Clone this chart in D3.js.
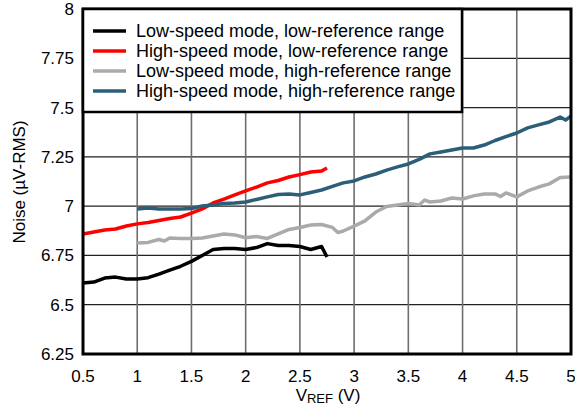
<!DOCTYPE html>
<meta charset="utf-8">
<head>
  <style>
    body { margin: 0; background: #fff; }
    svg text { font-family: "Liberation Sans", Arial, sans-serif; fill: #000; }
    .tick-label { font-size: 17px; }
    .legend-label { font-size: 18px; }
  </style>
  <script src="https://cdn.jsdelivr.net/npm/d3@7"></script>
</head>
<body>
  <svg width="575" height="408"></svg>
  <script>

    // x values (V) and noise readings (uV-RMS) for each curve
    var lowRefX = [0.5,0.6,0.7,0.8,0.9,1.0,1.1,1.2,1.3,1.4,1.5,1.6,1.7,1.8,1.9,2.0,2.1,2.2,2.3,2.4,2.5,2.6,2.7,2.75]
    var lsLowRef = [6.61,6.615,6.635,6.64,6.63,6.63,6.637,6.655,6.675,6.695,6.72,6.75,6.78,6.785,6.785,6.78,6.79,6.81,6.80,6.80,6.795,6.78,6.795,6.742]
    var hsLowRef = [6.859,6.869,6.879,6.884,6.899,6.91,6.917,6.927,6.937,6.945,6.965,6.986,7.016,7.036,7.057,7.077,7.097,7.118,7.13,7.148,7.16,7.173,7.178,7.194]

    var hsHighX = [1.0,1.1,1.2,1.3,1.4,1.5,1.6,1.7,1.8,1.9,2.0,2.1,2.2,2.3,2.4,2.5,2.6,2.7,2.8,2.9,3.0,3.1,3.2,3.3,3.4,3.5,3.6,3.7,3.8,3.9,4.0,4.1,4.2,4.3,4.4,4.5,4.6,4.7,4.8,4.9,4.95,5.0]
    var hsHighRef = [6.986,6.991,6.986,6.986,6.986,6.988,7.001,7.006,7.014,7.016,7.021,7.034,7.047,7.059,7.062,7.057,7.069,7.082,7.10,7.118,7.128,7.148,7.163,7.183,7.199,7.214,7.237,7.265,7.275,7.285,7.295,7.295,7.31,7.333,7.353,7.371,7.397,7.412,7.427,7.452,7.437,7.457]

    var lsHighX = [1.0,1.1,1.2,1.25,1.3,1.4,1.5,1.6,1.7,1.8,1.9,2.0,2.1,2.2,2.3,2.4,2.5,2.6,2.7,2.8,2.85,2.9,3.0,3.1,3.2,3.3,3.4,3.5,3.6,3.65,3.7,3.8,3.9,4.0,4.1,4.2,4.3,4.35,4.4,4.5,4.6,4.7,4.8,4.9,5.0]
    var lsHighRef = [6.813,6.816,6.831,6.823,6.838,6.836,6.836,6.838,6.849,6.859,6.854,6.84,6.846,6.836,6.859,6.882,6.892,6.904,6.907,6.892,6.866,6.874,6.899,6.925,6.97,6.998,7.006,7.014,7.006,7.031,7.021,7.026,7.041,7.036,7.052,7.062,7.062,7.049,7.067,7.047,7.077,7.097,7.113,7.145,7.148]

    var xTicks = [0.5,1,1.5,2,2.5,3,3.5,4,4.5,5]
    var yTicks = [6.25,6.5,6.75,7,7.25,7.5,7.75,8]

    var seriesNames = ["Low-speed mode, low-reference range", "High-speed mode, low-reference range",
      "Low-speed mode, high-reference range", "High-speed mode, high-reference range"]
    var seriesColors = ["#000000", "#ff0000", "#aaaaaa", "#2b5f78"]

    var series = [
      {x: lowRefX, y: lsLowRef},
      {x: lowRefX, y: hsLowRef},
      {x: lsHighX, y: lsHighRef},
      {x: hsHighX, y: hsHighRef}
    ]

    var svg = d3.select("svg")
    var plotL = 83, plotR = 571, plotT = 9, plotB = 354

    var x = d3.scaleLinear().domain([0.5, 5]).range([plotL, plotR])
    var y = d3.scaleLinear().domain([6.25, 8]).range([plotB, plotT])

    // grid
    svg.append("g").selectAll("line")
    .data(yTicks).enter().append("line")
    .attr("x1", plotL).attr("x2", plotR)
    .attr("y1", function(d) { return y(d) }).attr("y2", function(d) { return y(d) })
    .style("stroke", "#222").style("stroke-width", 1.2)

    svg.append("g").selectAll("line")
    .data(xTicks).enter().append("line")
    .attr("y1", plotT).attr("y2", plotB)
    .attr("x1", function(d) { return x(d) }).attr("x2", function(d) { return x(d) })
    .style("stroke", "#6e6e6e").style("stroke-width", 1.6)

    // curves
    var line = d3.line()
    .x(function(d) { return x(d[0]) })
    .y(function(d) { return y(d[1]) })

    series.forEach(function(s, i) {
      svg.append("path")
      .datum(d3.zip(s.x, s.y))
      .attr("d", line)
      .style("fill", "none")
      .style("stroke", seriesColors[i])
      .style("stroke-width", 3.5)
      .style("stroke-linejoin", "round")
    })

    // frame
    svg.append("rect")
    .attr("x", plotL).attr("y", plotT)
    .attr("width", plotR - plotL).attr("height", plotB - plotT)
    .style("fill", "none").style("stroke", "#000").style("stroke-width", 3)

    // tick labels
    svg.append("g").selectAll("text")
    .data(xTicks).enter().append("text")
    .attr("class", "tick-label")
    .attr("x", function(d) { return x(d) })
    .attr("y", 382)
    .attr("text-anchor", "middle")
    .text(function(d) { return d })

    svg.append("g").selectAll("text")
    .data(yTicks).enter().append("text")
    .attr("class", "tick-label")
    .attr("x", 74)
    .attr("y", function(d) { return y(d) + 6 })
    .attr("text-anchor", "end")
    .text(function(d) { return d })

    // axis titles
    var xt = svg.append("text")
    .attr("class", "tick-label")
    .attr("x", 328).attr("y", 401)
    .attr("text-anchor", "middle")
    xt.append("tspan").text("V")
    xt.append("tspan").attr("font-size", "13px").attr("dy", 2).text("REF")
    xt.append("tspan").attr("dy", -2).text(" (V)")

    svg.append("text")
    .attr("class", "tick-label")
    .attr("transform", "translate(25,182) rotate(-90)")
    .attr("text-anchor", "middle")
    .text("Noise (µV-RMS)")

    // legend
    var lg = svg.append("g")
    lg.append("rect")
    .attr("x", plotL).attr("y", plotT)
    .attr("width", 379).attr("height", 103)
    .style("fill", "#fff").style("stroke", "#000").style("stroke-width", 2.5)

    seriesNames.forEach(function(name, i) {
      var ly = 31 + i * 20
      lg.append("line")
      .attr("x1", 93).attr("x2", 126)
      .attr("y1", ly).attr("y2", ly)
      .style("stroke", seriesColors[i]).style("stroke-width", 3.5)
      lg.append("text")
      .attr("class", "legend-label")
      .attr("x", 136).attr("y", ly + 6)
      .text(name)
    })

  </script>
</body>
